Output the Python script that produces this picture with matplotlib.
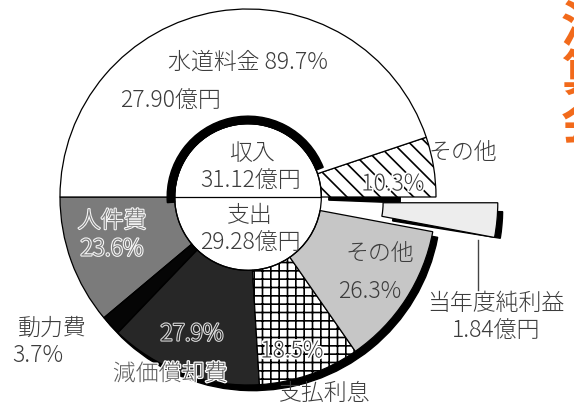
import matplotlib
matplotlib.use('Agg')
import matplotlib.pyplot as plt
import matplotlib.patheffects as pe
from matplotlib.patches import Wedge, Circle

plt.rcParams['font.family'] = ['Noto Sans CJK JP', 'DejaVu Sans']
plt.rcParams['hatch.linewidth'] = 1.2

# 収入 (億円)
income_total = 31.12
water_amount = 27.90
income_labels = ['その他', '水道料金']
income_pct = [10.3, 89.7]

# 支出 (% of 29.28億円) + 当年度純利益
expense_total = 29.28
net_profit = 1.84
expense_labels = ['人件費', '動力費', '減価償却費', '支払利息', 'その他']
expense_pct = [23.6, 3.7, 27.9, 18.5, 26.3]

HOLE = 0.39
TXT = '#3c3c3c'

# pixel -> data (center at 248,197, radius 188px)
CX, CY, R = 248, 197, 188.0
def P(px, py):
    return (px - CX) / R, (CY - py) / R

fig = plt.figure(figsize=(5.74, 4.08), dpi=100)
ax = fig.add_axes([0, 0, 1, 1])

sh = (0.026, -0.03)  # shadow offset

# expenditure half (counterclockwise from the left)
exp_vals = [p * expense_total / 100 for p in expense_pct] + [net_profit, income_total]
exp_cols = ['#7b7b7b', '#050505', '#272727', 'white', '#c6c6c6', '#ededed', 'none']
exp_w, _ = ax.pie(exp_vals, startangle=180, counterclock=True, colors=exp_cols,
                  radius=1, explode=[0, 0, 0, 0, 0, 0.33, 0],
                  wedgeprops=dict(width=1 - HOLE, edgecolor='black', linewidth=0.9))
exp_w[-1].set_visible(False)
exp_w[3].set_hatch('++')
for w in exp_w[:5]:
    w.set_zorder(3)

# shadow behind the lower half
t_start = exp_w[0].theta1
t_end = exp_w[4].theta2
ax.add_patch(Wedge((sh[0], sh[1]), 1.0, t_start + 8, t_end, color='black', zorder=1))
ax.add_patch(Circle((0, 0), HOLE, color='white', zorder=2))

# exploded net profit wedge with its shadow
pw = exp_w[5]
pw.set_zorder(6)
cx0, cy0 = pw.center
ax.add_patch(Wedge((cx0 + sh[0], cy0 + sh[1]), pw.r, pw.theta1 + 1.5, pw.theta2 - 1,
                   width=pw.width - 0.03, color='black', zorder=5))
# shadow strip at the top of the gap
ax.add_patch(Wedge((0, 0), 0.81, pw.theta2 - 2.2, pw.theta2, width=0.38,
                   color='black', zorder=2))

# income half
inc_w, _ = ax.pie(income_pct + [sum(income_pct)], startangle=0, counterclock=True,
                  colors=['white', 'white', 'none'], radius=1,
                  wedgeprops=dict(width=1 - HOLE, edgecolor='black', linewidth=0.9))
inc_w[-1].set_visible(False)
inc_w[0].set_hatch('\\\\')
for w in inc_w[:2]:
    w.set_zorder(3)
ww = inc_w[1]
ax.add_patch(Wedge((0, 0), HOLE + 0.04, ww.theta1 + 3, ww.theta2 + 4, width=0.04,
                   color='black', zorder=4))

# hole outline and dividing line
ax.add_patch(Circle((0, 0), HOLE, fill=False, edgecolor='black', lw=0.9, zorder=4))
ax.plot([-HOLE, HOLE], [0, 0], color='black', lw=0.9, zorder=4)

# limits after pie (pie resets them)
ax.set_xlim(P(0, 0)[0], P(574, 0)[0])
ax.set_ylim(P(0, 408)[1], P(0, 0)[1])
ax.set_aspect('equal')
ax.axis('off')

def label(px, py, s, size=16.5, color=TXT, stroke=None, sw=2.4, **kw):
    x, y = P(px, py)
    t = ax.text(x, y, s, ha='center', va='center', fontsize=size, color=color,
                fontweight='light', zorder=10, **kw)
    if stroke:
        t.set_path_effects([pe.withStroke(linewidth=sw, foreground=stroke)])
    return t

label(248, 62, f'{income_labels[1]} {income_pct[1]}%')
label(170, 101, f'{water_amount:.2f}億円')
label(252, 153, '収入')
label(251, 181, f'{income_total:.2f}億円')
label(250, 215, '支出')
label(250, 243, f'{expense_total:.2f}億円')
label(463, 152, income_labels[0])
label(393, 184, f'{income_pct[0]}%', stroke='white')

label(112, 221, expense_labels[0], color='#7b7b7b', stroke='#f4f4f4', sw=1.6)
label(112, 249, f'{expense_pct[0]}%', color='#7b7b7b', stroke='#f4f4f4', sw=1.6)
label(52, 328, expense_labels[1])
label(38, 355, f'{expense_pct[1]}%')
label(192, 334, f'{expense_pct[2]}%', color='#272727', stroke='#d8d8d8', sw=1.6)
label(170, 374, expense_labels[2], color='#5a5a5a', stroke='white', sw=1.8)
label(292, 351, f'{expense_pct[3]}%', stroke='white')
label(325, 393, expense_labels[3])
label(380, 253, expense_labels[4])
label(370, 291, f'{expense_pct[4]}%')
label(496, 304, '当年度純利益')
label(496, 331, f'{net_profit:.2f}億円')

x1, y1 = P(478, 240)
x2, y2 = P(478, 290)
ax.plot([x1, x2], [y1, y2], color='#444444', lw=1.0, zorder=10)

# cut-off heading at the right edge
hx, hy = P(561, 2)
ax.text(hx, hy, '決\n算\n会', ha='left', va='top', fontsize=36, color='#f26a1b',
        fontweight='bold', linespacing=0.95, zorder=10)

fig.savefig('out.png', dpi=100)
